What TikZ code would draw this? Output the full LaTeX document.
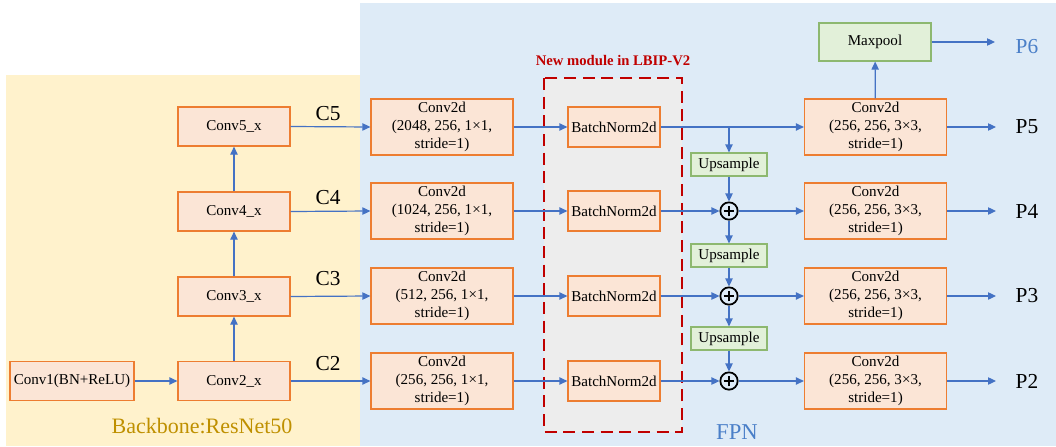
\documentclass[tikz,border=0pt]{standalone}
\usepackage{fontspec}
\setmainfont{Liberation Serif}
\usetikzlibrary{arrows.meta}
\definecolor{boxfill}{HTML}{FBE5D6}
\definecolor{boxline}{HTML}{ED7D31}
\definecolor{grfill}{HTML}{E2F0D9}
\definecolor{grline}{HTML}{8DB870}
\definecolor{arrowc}{HTML}{4472C4}
\definecolor{yelbg}{HTML}{FFF2CC}
\definecolor{bluebg}{HTML}{DEEBF7}
\definecolor{graybg}{HTML}{EDEDED}
\definecolor{redc}{HTML}{C00000}
\definecolor{goldc}{HTML}{BF9000}
\definecolor{lblue}{HTML}{4A7FC8}
\tikzset{
  base/.style={draw, line width=0.9pt, inner sep=0pt, align=center, font=\fontsize{11.3}{13.5}\selectfont},
  orbox/.style={base, fill=boxfill, draw=boxline},
  bbbox/.style={orbox, minimum width=84pt, minimum height=29.25pt},
  cdbox/.style={orbox, minimum width=106.5pt, minimum height=42pt},
  bnbox/.style={orbox, minimum width=69pt, minimum height=30pt},
  grbox/.style={base, fill=grfill, draw=grline},
  upbox/.style={grbox, minimum width=57pt, minimum height=17.25pt},
  mpbox/.style={grbox, minimum width=84pt, minimum height=28.5pt},
  plusnode/.style={circle, draw=black, line width=1.3pt, minimum size=13pt, inner sep=0pt,
    path picture={\draw[line width=1.3pt] ([xshift=-4pt]path picture bounding box.center) -- ([xshift=4pt]path picture bounding box.center);
                  \draw[line width=1.3pt] ([yshift=-4pt]path picture bounding box.center) -- ([yshift=4pt]path picture bounding box.center);}},
  arr/.style={draw=arrowc, line width=0.9pt, -{Triangle[length=6pt,width=5.5pt]}},
  ln/.style={draw=arrowc, line width=0.9pt},
  biglbl/.style={inner sep=0pt, font=\fontsize{16}{18}\selectfont},
}
\begin{document}
\begin{tikzpicture}[x=0.75pt,y=-0.75pt]
\useasboundingbox (0,0) rectangle (1056,446);
\fill[white] (0,0) rectangle (1056,446);
\fill[yelbg] (6,75) rectangle (360,446);
\fill[bluebg] (360,3) rectangle (1056,446);
\draw[redc, fill=graybg, line width=1.5pt, dash pattern=on 9pt off 5pt] (544,78) rectangle (682,432);
\node[inner sep=0pt, text=redc, font=\fontsize{11}{13}\selectfont\bfseries] (newmod) at (613,61) {New module in LBIP-V2};

% backbone
\node[bbbox] (c5) at (234,126.5) {Conv5\_x};
\node[bbbox] (c4) at (234,211.5) {Conv4\_x};
\node[bbbox] (c3) at (234,296.5) {Conv3\_x};
\node[bbbox] (c2) at (234,381) {Conv2\_x};
\node[orbox, minimum width=93pt, minimum height=29.25pt] (c1) at (72,381) {Conv1(BN+ReLU)};
\path[arr] (c1) -- (c2);
\path[arr] (c2) -- (c3);
\path[arr] (c3) -- (c4);
\path[arr] (c4) -- (c5);
\node[biglbl] (lc5) at (328,114) {C5};
\node[biglbl] (lc4) at (328,198) {C4};
\node[biglbl] (lc3) at (328,279) {C3};
\node[biglbl] (lc2) at (328,364) {C2};
\node[biglbl, text=goldc, font=\fontsize{16.5}{18}\selectfont] (bblbl) at (202,426) {Backbone:ResNet50};

% conv2d 1x1
\node[cdbox] (d5) at (442,127) {Conv2d\\(2048, 256, 1×1,\\stride=1)};
\node[cdbox] (d4) at (442,211) {Conv2d\\(1024, 256, 1×1,\\stride=1)};
\node[cdbox] (d3) at (442,296) {Conv2d\\(512, 256, 1×1,\\stride=1)};
\node[cdbox] (d2) at (442,381) {Conv2d\\(256, 256, 1×1,\\stride=1)};
\path[arr] (c5.east) -- (d5.west);
\path[arr] (c4.east) -- (d4.west);
\path[arr] (c3.east) -- (d3.west);
\path[arr] (c2.east) -- (d2.west);

% batchnorm
\node[bnbox] (b5) at (614,127) {BatchNorm2d};
\node[bnbox] (b4) at (614,211) {BatchNorm2d};
\node[bnbox] (b3) at (614,296) {BatchNorm2d};
\node[bnbox] (b2) at (614,381) {BatchNorm2d};
\path[arr] (d5) -- (b5);
\path[arr] (d4) -- (b4);
\path[arr] (d3) -- (b3);
\path[arr] (d2) -- (b2);

% FPN
\node[cdbox] (p5c) at (875.5,127) {Conv2d\\(256, 256, 3×3,\\stride=1)};
\node[cdbox] (p4c) at (875.5,211) {Conv2d\\(256, 256, 3×3,\\stride=1)};
\node[cdbox] (p3c) at (875.5,296) {Conv2d\\(256, 256, 3×3,\\stride=1)};
\node[cdbox] (p2c) at (875.5,381) {Conv2d\\(256, 256, 3×3,\\stride=1)};
\node[mpbox] (mp) at (875,42) {Maxpool};
\node[upbox] (u1) at (729,164.5) {Upsample};
\node[upbox] (u2) at (729,255.5) {Upsample};
\node[upbox] (u3) at (729,338.5) {Upsample};
\node[plusnode] (s4) at (729,211) {};
\node[plusnode] (s3) at (729,296) {};
\node[plusnode] (s2) at (729,381) {};
\coordinate (j5) at (729,127);

\path[arr] (b5) -- (p5c);
\path[arr] (j5) -- (u1);
\path[arr] (u1) -- (s4);
\path[arr] (s4) -- (u2);
\path[arr] (u2) -- (s3);
\path[arr] (s3) -- (u3);
\path[arr] (u3) -- (s2);
\path[arr] (b4) -- (s4);
\path[arr] (b3) -- (s3);
\path[arr] (b2) -- (s2);
\path[arr] (s4) -- (p4c);
\path[arr] (s3) -- (p3c);
\path[arr] (s2) -- (p2c);
\path[arr] (p5c) -- (mp);

\node[biglbl] (o6) at (1027,47) {\textcolor{lblue}{P6}};
\node[biglbl] (o5) at (1027,127) {P5};
\node[biglbl] (o4) at (1027,211) {P4};
\node[biglbl] (o3) at (1027,296) {P3};
\node[biglbl] (o2) at (1027,381) {P2};
\coordinate (e6) at (995,42);
\coordinate (e5) at (996,127);
\coordinate (e4) at (996,211);
\coordinate (e3) at (996,296);
\coordinate (e2) at (996,381);
\path[arr] (mp) -- (e6);
\path[arr] (p5c) -- (e5);
\path[arr] (p4c) -- (e4);
\path[arr] (p3c) -- (e3);
\path[arr] (p2c) -- (e2);
\node[biglbl, text=lblue, font=\fontsize{17}{19}\selectfont] (fpn) at (737,432) {FPN};
\end{tikzpicture}
\end{document}
